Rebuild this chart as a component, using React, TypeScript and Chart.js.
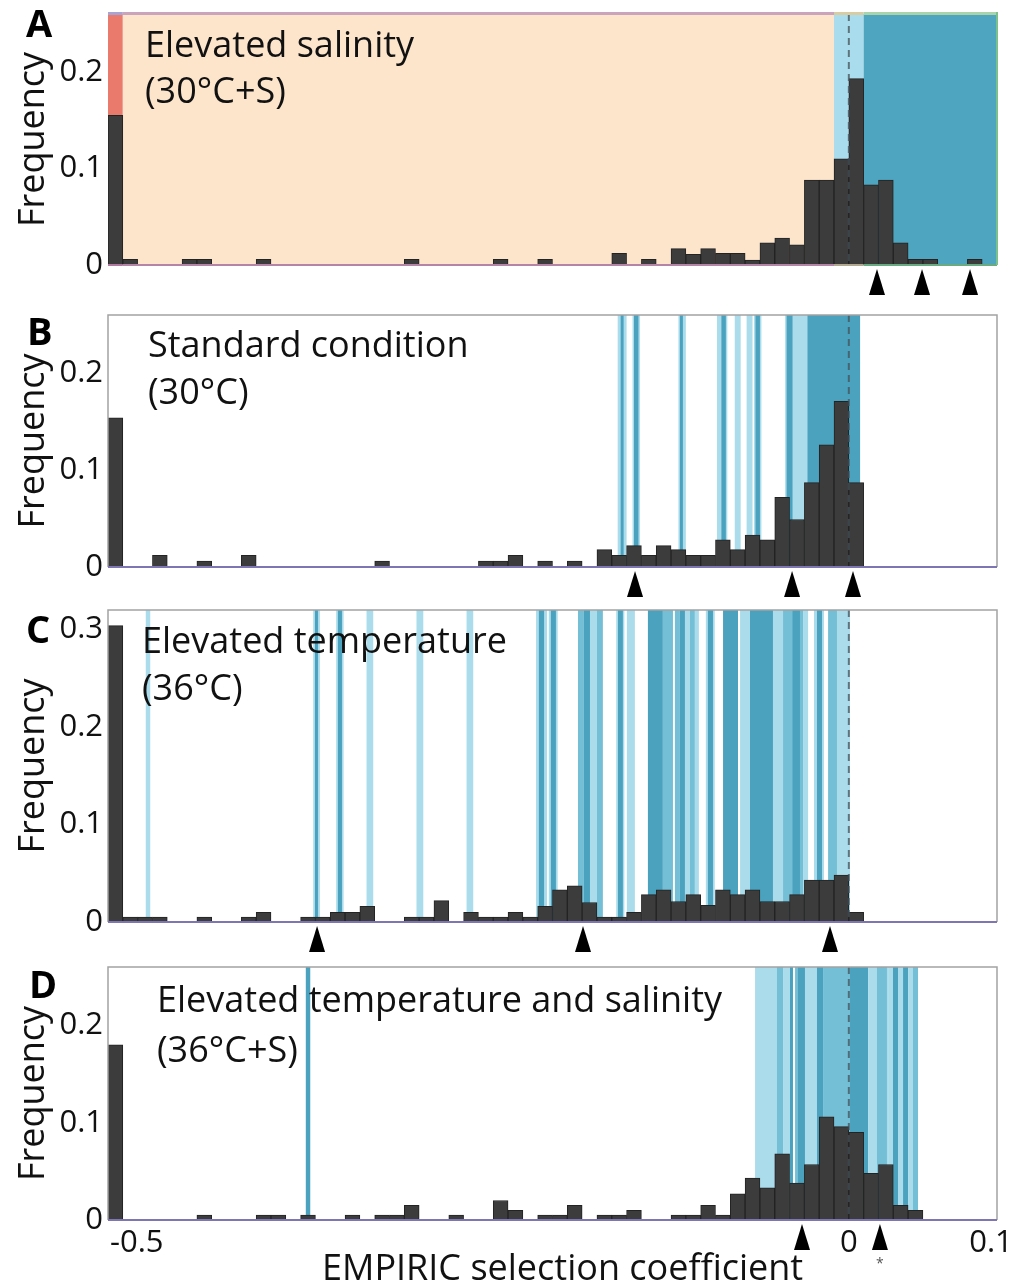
import React, { useEffect, useRef } from 'react';
import { Chart, registerables } from 'chart.js';

Chart.register(...registerables);

const W = 1027;
const H = 1285;
const FONT = "'Open Sans', 'Noto Sans', sans-serif";

// ---------- DATA ----------
const binCenters = [
  -0.495, -0.485, -0.475, -0.465, -0.455, -0.445, -0.435, -0.425, -0.415, -0.405,
  -0.395, -0.385, -0.375, -0.365, -0.355, -0.345, -0.335, -0.325, -0.315, -0.305,
  -0.295, -0.285, -0.275, -0.265, -0.255, -0.245, -0.235, -0.225, -0.215, -0.205,
  -0.195, -0.185, -0.175, -0.165, -0.155, -0.145, -0.135, -0.125, -0.115, -0.105,
  -0.095, -0.085, -0.075, -0.065, -0.055, -0.045, -0.035, -0.025, -0.015, -0.005,
  0.005, 0.015, 0.025, 0.035, 0.045, 0.055, 0.065, 0.075, 0.085, 0.095,
];

const freqA = [
  0.155, 0.006, 0, 0, 0, 0.006, 0.006, 0, 0, 0,
  0.006, 0, 0, 0, 0, 0, 0, 0, 0, 0,
  0.006, 0, 0, 0, 0, 0, 0.006, 0, 0, 0.006,
  0, 0, 0, 0, 0.012, 0, 0.006, 0, 0.017, 0.011,
  0.017, 0.012, 0.012, 0.005, 0.023, 0.028, 0.021, 0.088, 0.088, 0.110,
  0.193, 0.083, 0.088, 0.023, 0.006, 0.006, 0, 0, 0.006, 0,
];
const freqB = [
  0.154, 0, 0, 0.012, 0, 0, 0.006, 0, 0, 0.012,
  0, 0, 0, 0, 0, 0, 0, 0, 0.006, 0,
  0, 0, 0, 0, 0, 0.006, 0.006, 0.012, 0, 0.006,
  0, 0.006, 0, 0.018, 0.012, 0.022, 0.012, 0.022, 0.018, 0.012,
  0.012, 0.028, 0.018, 0.033, 0.028, 0.072, 0.049, 0.087, 0.126, 0.171,
  0.087, 0, 0, 0, 0, 0, 0, 0, 0, 0,
];
const freqC = [
  0.304, 0.005, 0.005, 0.005, 0, 0, 0.005, 0, 0, 0.005,
  0.010, 0, 0, 0.005, 0.005, 0.010, 0.010, 0.016, 0, 0,
  0.005, 0.005, 0.022, 0, 0.010, 0.005, 0.005, 0.010, 0.005, 0.016,
  0.033, 0.037, 0.020, 0.005, 0.005, 0.010, 0.028, 0.033, 0.021, 0.028,
  0.017, 0.033, 0.028, 0.033, 0.021, 0.021, 0.028, 0.043, 0.043, 0.048,
  0.010, 0, 0, 0, 0, 0, 0, 0, 0, 0,
];
const freqD = [
  0.180, 0, 0, 0, 0, 0, 0.005, 0, 0, 0,
  0.005, 0.005, 0, 0.005, 0, 0, 0.005, 0, 0.005, 0.005,
  0.015, 0, 0, 0.005, 0, 0, 0.020, 0.010, 0, 0.005,
  0.005, 0.015, 0, 0.005, 0.005, 0.010, 0, 0, 0.005, 0.005,
  0.015, 0.005, 0.027, 0.043, 0.033, 0.068, 0.038, 0.057, 0.106, 0.096,
  0.090, 0.048, 0.057, 0.015, 0.010, 0, 0, 0, 0, 0,
];

// Panel A shaded regions [from, to]
const regionsA = [
  [-0.5, -0.49],
  [-0.49, -0.01],
  [-0.01, 0.01],
  [0.01, 0.1],
];

// vertical bands [from, to, shade(0 light,1 mid,2 dark)]
const bandsB = [
  [-0.156, -0.150, 0], [-0.154, -0.152, 2],
  [-0.146, -0.141, 0], [-0.145, -0.142, 2],
  [-0.115, -0.110, 0], [-0.114, -0.112, 2],
  [-0.089, -0.082, 0], [-0.086, -0.083, 2],
  [-0.077, -0.073, 0],
  [-0.069, -0.065, 0],
  [-0.064, -0.059, 0], [-0.063, -0.060, 2],
  [-0.043, -0.028, 0], [-0.042, -0.038, 2],
  [-0.028, 0.0076, 2],
];
const bandsC = [
  [-0.4745, -0.4715, 0],
  [-0.3615, -0.3570, 0], [-0.3603, -0.3583, 2],
  [-0.3460, -0.3410, 0], [-0.3448, -0.3421, 2],
  [-0.3255, -0.3210, 0],
  [-0.2918, -0.2872, 0],
  [-0.2580, -0.2535, 0],
  [-0.2111, -0.2037, 0], [-0.2092, -0.2057, 2],
  [-0.2025, -0.1965, 0], [-0.2011, -0.1977, 2],
  [-0.1828, -0.1788, 1],
  [-0.1788, -0.1747, 2],
  [-0.1747, -0.1700, 0],
  [-0.1700, -0.1660, 1],
  [-0.1570, -0.1515, 0], [-0.1558, -0.1525, 2],
  [-0.1498, -0.1444, 0],
  [-0.1356, -0.1255, 2],
  [-0.1255, -0.1187, 1],
  [-0.1174, -0.1140, 1],
  [-0.1140, -0.1106, 2],
  [-0.1106, -0.1072, 0],
  [-0.1072, -0.1039, 1],
  [-0.1039, -0.1012, 0],
  [-0.0965, -0.0905, 0], [-0.0951, -0.0917, 2],
  [-0.0849, -0.0748, 2],
  [-0.0734, -0.0667, 0],
  [-0.0667, -0.0512, 2],
  [-0.0512, -0.0444, 0],
  [-0.0444, -0.0309, 1],
  [-0.0380, -0.0330, 2],
  [-0.0309, -0.0275, 0],
  [-0.0235, -0.0168, 0], [-0.0215, -0.0181, 2],
  [-0.0140, -0.0080, 1],
  [-0.0080, 0.0008, 0],
];
const bandsD = [
  [-0.3665, -0.3635, 2],
  [-0.0633, -0.0485, 0],
  [-0.0485, -0.0444, 1],
  [-0.0444, -0.0397, 0],
  [-0.0397, -0.0377, 2],
  [-0.0363, -0.0343, 1],
  [-0.0343, -0.0296, 2],
  [-0.0296, -0.0215, 0],
  [-0.0215, -0.0174, 2],
  [-0.0174, 0.0008, 1],
  [0.0008, 0.0130, 2],
  [0.0130, 0.0265, 0],
  [0.0190, 0.0257, 1],
  [0.0265, 0.0298, 0],
  [0.0298, 0.0332, 2],
  [0.0332, 0.0366, 0],
  [0.0366, 0.0400, 2],
  [0.0400, 0.0433, 0],
  [0.0433, 0.0467, 1],
];

const arrowsA = [0.019, 0.0494, 0.0818];
const arrowsB = [-0.1443, -0.0383, 0.0028];
const arrowsC = [-0.3589, -0.1794, -0.0127];
const arrowsD = [-0.0316, 0.021];
const starredArrowD = 0.021;

const yTicksABD = [0, 0.1, 0.2];
const yTicksC = [0, 0.1, 0.2, 0.3];
const yTickLabelsABD = ['0', '0.1', '0.2'];
const yTickLabelsC = ['0', '0.1', '0.2', '0.3'];

const xTickValues = [-0.5, 0, 0.1];
const xTickLabels = ['-0.5', '0', '0.1'];

const panelLetters = ['A', 'B', 'C', 'D'];
const panelTitles = ['Elevated salinity', 'Standard condition', 'Elevated temperature', 'Elevated temperature and salinity'];
const panelSubtitles = ['(30\u00B0C+S)', '(30\u00B0C)', '(36\u00B0C)', '(36\u00B0C+S)'];
const yAxisTitle = 'Frequency';
const xAxisTitle = 'EMPIRIC selection coefficient';

// ---------- LAYOUT / STYLE ----------
const X_MIN = -0.5;
const X_MAX = 0.1;
const PLOT_LEFT = 108;
const PLOT_RIGHT = 997;

const layouts = [
  { top: 14, bottom: 265, yMax: 0.26, textX: 145, textY: 57, subY: 103, letterX: 26, letterY: 37 },
  { top: 315, bottom: 567, yMax: 0.26, textX: 148, textY: 357, subY: 404, letterX: 27, letterY: 345 },
  { top: 610, bottom: 922, yMax: 0.32, textX: 142, textY: 653, subY: 700, letterX: 26, letterY: 643 },
  { top: 967, bottom: 1220, yMax: 0.26, textX: 157, textY: 1012, subY: 1062, letterX: 29, letterY: 998 },
];

const regionFill = ['#e97a6c', '#fde5cc', '#a9dcec', '#4da5c0'];
const regionTopEdge = ['#a7a3d3', '#caa3bd', '#d9cba2', '#a9d3ab'];
const regionBottomEdge = ['#b07aa0', '#b585a8', '#b2a890', '#6aaa80'];
const shadeColors = ['#abdcec', '#74bfd6', '#4aa2bf'];

const BAR_FILL = '#3c3c3c';
const BAR_EDGE = '#232323';
const TEXT = '#111111';

type Panel = {
  values: number[];
  regions: number[][] | null;
  bands: number[][] | null;
  arrows: number[];
  yTicks: number[];
  yTickLabels: string[];
  showX: boolean;
};

const panels: Panel[] = [
  { values: freqA, regions: regionsA, bands: null, arrows: arrowsA, yTicks: yTicksABD, yTickLabels: yTickLabelsABD, showX: false },
  { values: freqB, regions: null, bands: bandsB, arrows: arrowsB, yTicks: yTicksABD, yTickLabels: yTickLabelsABD, showX: false },
  { values: freqC, regions: null, bands: bandsC, arrows: arrowsC, yTicks: yTicksC, yTickLabels: yTickLabelsC, showX: false },
  { values: freqD, regions: null, bands: bandsD, arrows: arrowsD, yTicks: yTicksABD, yTickLabels: yTickLabelsABD, showX: true },
];

function buildConfig(p: Panel, idx: number): any {
  const lay = layouts[idx];
  const decor = {
    id: 'decor' + idx,
    beforeDatasetsDraw(chart: any) {
      const { ctx, chartArea: ca, scales } = chart;
      const x = scales.x;
      ctx.save();
      if (p.regions) {
        p.regions.forEach((r, i) => {
          const x1 = x.getPixelForValue(r[0]);
          const x2 = x.getPixelForValue(r[1]);
          ctx.fillStyle = regionFill[i];
          ctx.fillRect(x1, ca.top, x2 - x1, ca.bottom - ca.top);
        });
      }
      if (p.bands) {
        p.bands.forEach((b) => {
          const x1 = x.getPixelForValue(b[0]);
          const x2 = x.getPixelForValue(b[1]);
          ctx.fillStyle = shadeColors[b[2]];
          ctx.fillRect(x1, ca.top, Math.max(1.5, x2 - x1), ca.bottom - ca.top);
        });
      }
      ctx.restore();
    },
    afterDatasetsDraw(chart: any) {
      const { ctx, chartArea: ca, scales } = chart;
      const x = scales.x;
      ctx.save();
      // zero dashed line
      const x0 = x.getPixelForValue(0);
      ctx.strokeStyle = 'rgba(70,80,90,0.75)';
      ctx.lineWidth = 2;
      ctx.setLineDash([7, 5]);
      ctx.beginPath();
      ctx.moveTo(x0, ca.top);
      ctx.lineTo(x0, ca.bottom);
      ctx.stroke();
      ctx.setLineDash([]);

      // frame
      if (p.regions) {
        p.regions.forEach((r, i) => {
          const x1 = x.getPixelForValue(r[0]);
          const x2 = x.getPixelForValue(r[1]);
          ctx.fillStyle = regionTopEdge[i];
          ctx.fillRect(x1, ca.top - 2, x2 - x1, 3);
          ctx.fillStyle = regionBottomEdge[i];
          ctx.fillRect(x1, ca.bottom - 1, x2 - x1, 2);
        });
        ctx.fillStyle = '#7cc08c';
        ctx.fillRect(ca.right - 1, ca.top - 2, 2, ca.bottom - ca.top + 2);
      } else {
        ctx.strokeStyle = '#a3a3a3';
        ctx.lineWidth = 1.5;
        ctx.beginPath();
        ctx.moveTo(ca.left, ca.bottom);
        ctx.lineTo(ca.left, ca.top);
        ctx.lineTo(ca.right, ca.top);
        ctx.lineTo(ca.right, ca.bottom);
        ctx.stroke();
        ctx.strokeStyle = '#7d76b2';
        ctx.lineWidth = 2;
        ctx.beginPath();
        ctx.moveTo(ca.left, ca.bottom);
        ctx.lineTo(ca.right, ca.bottom);
        ctx.stroke();
      }

      // arrowheads
      ctx.fillStyle = '#000';
      p.arrows.forEach((a) => {
        const xa = x.getPixelForValue(a);
        ctx.beginPath();
        ctx.moveTo(xa, ca.bottom + 4);
        ctx.lineTo(xa - 8, ca.bottom + 30);
        ctx.lineTo(xa + 8, ca.bottom + 30);
        ctx.closePath();
        ctx.fill();
        if (p.showX && a === starredArrowD) {
          ctx.font = `14px ${FONT}`;
          ctx.textAlign = 'center';
          ctx.textBaseline = 'middle';
          ctx.fillStyle = '#555';
          ctx.fillText('*', xa, ca.bottom + 44);
          ctx.fillStyle = '#000';
        }
      });

      // texts
      ctx.fillStyle = TEXT;
      ctx.textAlign = 'left';
      ctx.textBaseline = 'alphabetic';
      ctx.font = `36px ${FONT}`;
      ctx.fillText(panelTitles[idx], lay.textX, lay.textY);
      ctx.fillText(panelSubtitles[idx], lay.textX, lay.subY);
      ctx.font = `bold 38px ${FONT}`;
      ctx.fillStyle = '#000';
      ctx.fillText(panelLetters[idx], lay.letterX, lay.letterY);

      if (p.showX) {
        ctx.font = `31px ${FONT}`;
        ctx.fillStyle = TEXT;
        ctx.textBaseline = 'middle';
        xTickValues.forEach((v, i) => {
          const xp = x.getPixelForValue(v);
          if (i === 0) {
            ctx.textAlign = 'left';
            ctx.fillText(xTickLabels[i], xp + 2, ca.bottom + 23);
          } else {
            ctx.textAlign = 'center';
            ctx.fillText(xTickLabels[i], xp - (i === 2 ? 6 : 0), ca.bottom + 23);
          }
        });
        ctx.textAlign = 'left';
        ctx.textBaseline = 'alphabetic';
        ctx.font = `36px ${FONT}`;
        ctx.fillText(xAxisTitle, 322, ca.bottom + 60);
      }
      ctx.restore();
    },
  };

  return {
    type: 'bar',
    data: {
      datasets: [
        {
          data: binCenters.map((c, i) => ({ x: c, y: p.values[i] })),
          backgroundColor: BAR_FILL,
          borderColor: BAR_EDGE,
          borderWidth: (ctx: any) => (ctx.raw && ctx.raw.y > 0 ? 1 : 0),
          borderSkipped: 'start',
          barPercentage: 1,
          categoryPercentage: 1,
        },
      ],
    },
    options: {
      responsive: false,
      animation: false,
      events: [],
      layout: {
        padding: { top: lay.top, bottom: H - lay.bottom, left: 0, right: W - PLOT_RIGHT },
      },
      plugins: { legend: { display: false }, tooltip: { enabled: false }, title: { display: false } },
      scales: {
        x: {
          type: 'linear',
          min: X_MIN,
          max: X_MAX,
          offset: false,
          display: false,
        },
        y: {
          type: 'linear',
          position: 'left',
          min: 0,
          max: lay.yMax,
          afterBuildTicks: (s: any) => {
            s.ticks = p.yTicks.map((v) => ({ value: v }));
          },
          afterFit: (s: any) => {
            s.width = PLOT_LEFT;
            s.paddingTop = 0;
            s.paddingBottom = 0;
          },
          grid: { display: false, drawTicks: false },
          border: { display: false },
          ticks: {
            padding: 5,
            color: TEXT,
            font: { family: FONT, size: 31 },
            callback: (v: number, i: number) => p.yTickLabels[i],
          },
          title: {
            display: true,
            text: yAxisTitle,
            color: TEXT,
            font: { family: FONT, size: 36 },
            padding: { top: 12, bottom: 0 },
          },
        },
      },
    },
    plugins: [decor],
  };
}

export default function App() {
  const refs = useRef<(HTMLCanvasElement | null)[]>([]);
  useEffect(() => {
    const charts = panels.map((p, i) => new Chart(refs.current[i] as HTMLCanvasElement, buildConfig(p, i)));
    return () => charts.forEach((c) => c.destroy());
  }, []);
  return (
    <div style={{ position: 'absolute', left: 0, top: 0, width: W, height: H, overflow: 'hidden', background: '#fff' }}>
      {panels.map((_, i) => (
        <canvas
          key={i}
          ref={(el) => {
            refs.current[i] = el;
          }}
          width={W}
          height={H}
          style={{ position: 'absolute', left: 0, top: 0, width: W, height: H }}
        />
      ))}
    </div>
  );
}
